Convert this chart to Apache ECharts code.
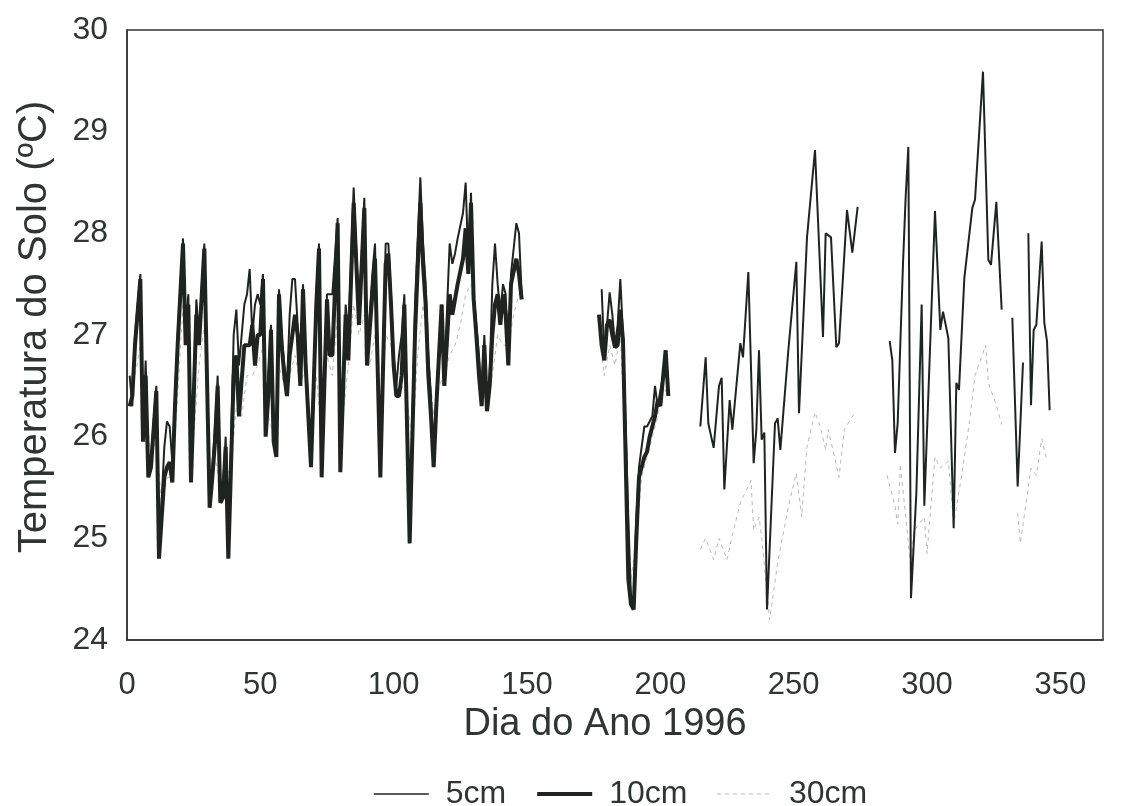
<!DOCTYPE html>
<html>
<head>
<meta charset="utf-8">
<script src="https://cdn.jsdelivr.net/npm/echarts@6/dist/echarts.min.js"></script>
<style>
html,body{margin:0;padding:0;background:#fff;}
#chart{width:1135px;height:806px;}
</style>
</head>
<body>
<div id="chart"></div>
<script>
// Series names
const seriesNames = ['5cm', '10cm', '30cm'];
// Axis ticks
const xTicks = [0, 50, 100, 150, 200, 250, 300, 350];
const yTicks = [24, 25, 26, 27, 28, 29, 30];

// 5 cm depth: [day of year, temperature °C]; '-' marks a gap
const soil5cm = [
[1,26.6],[2,26.3],[3,27.0],[5,27.6],[6,26.0],[7,26.75],[8,25.65],[9,25.8],[11,26.5],[12,24.85],[14,25.9],[15,26.15],[16,26.1],[17,25.75],[18,26.4],[19,27.0],[21,27.95],[22,27.1],[23,27.4],[24,25.6],[26,27.35],[27,27.0],[29,27.9],[31,25.35],[32,25.7],[33,26.1],[34,26.6],[35,25.45],[36,25.5],[37,26.0],[38,24.85],[40,27.0],[41,27.25],[42,26.7],[44,27.3],[45,27.4],[46,27.65],[47,27.0],[48,27.3],[49,27.4],[50,27.3],[51,27.6],[52,26.1],[53,26.6],[54,27.1],[55,26.1],[56,25.9],[57,27.45],[58,27.0],[59,26.7],[60,26.5],[61,27.2],[62,27.55],[63,27.55],[64,27.1],[65,26.6],[66,27.5],[67,26.8],[69,25.75],[70,26.6],[71,27.4],[72,27.9],[73,25.65],[74,26.6],[75,27.4],[76,27.4],[77,27.4],[79,28.15],[80,25.75],[82,27.3],[83,27.0],[85,28.45],[87,27.2],[89,28.35],[90,26.8],[92,27.6],[93,27.9],[95,25.65],[97,27.9],[98,27.9],[99,27.4],[100,26.8],[101,26.5],[102,26.8],[103,27.0],[104,27.4],[106,25.0],[108,27.3],[110,28.55],[111,27.9],[112,27.5],[113,26.8],[114,26.4],[115,25.8],[116,26.4],[118,27.3],[119,26.6],[121,27.9],[122,27.7],[123,27.8],[124,27.95],[126,28.2],[127,28.5],[128,27.7],[129,28.4],[130,27.4],[131,27.1],[132,26.8],[133,26.4],[134,27.0],[135,26.3],[136,26.6],[137,27.5],[138,27.9],[139,27.5],[140,27.2],[141,27.5],[142,27.4],[143,26.8],[144,27.6],[146,28.1],[147,28.0],[148,27.4],
[160,'-'],
[178,27.45],[179,26.8],[180,27.1],[181,27.42],[182,27.2],[183,26.9],[184,27.1],[185,27.55],[186,27.0],[188,25.2],[189,24.4],[190,24.35],[191,25.2],[192,25.7],[194,26.1],[195,26.1],[196,26.15],[197,26.2],[198,26.5],[199,26.3],[201,26.6],[202,26.85],[203,26.45],
[208,'-'],
[215,26.1],[217,26.78],[218,26.13],[220,25.89],[222,26.5],[223,26.58],[224,25.48],[226,26.36],[227,26.07],[230,26.92],[231,26.78],[233,27.62],[235,25.74],[236,26.07],[237,26.85],[238,25.97],[239,26.04],[240,24.3],[243,26.13],[244,26.18],[245,25.87],[248,26.85],[251,27.72],[252,26.23],[255,27.96],[258,28.82],[261,26.98],[262,28.0],[264,27.96],[266,26.88],[267,26.92],[270,28.23],[272,27.81],[274,28.26],
[280,'-'],
[286,26.94],[287,26.75],[288,25.84],[289,26.13],[291,27.7],[292,28.36],[293,28.85],[294,24.41],[296,25.44],[298,27.3],[299,25.32],[303,28.22],[305,27.05],[306,27.23],[308,26.97],[310,25.1],[311,26.53],[312,26.46],[314,27.56],[317,28.25],[318,28.33],[321,29.59],[323,27.74],[324,27.69],[326,28.31],[328,27.25],
[330,'-'],
[332,27.17],[334,25.51],[336,26.73],[337,'-'],[338,28.0],[339,26.31],[340,27.05],[341,27.1],[343,27.92],[344,27.12],[345,26.94],[346,26.26]
];

// 10 cm depth
const soil10cm = [
[1,26.3],[2,26.4],[3,26.9],[5,27.55],[6,25.95],[7,26.6],[8,25.6],[9,25.7],[11,26.45],[12,24.8],[14,25.6],[15,25.7],[16,25.75],[17,25.55],[18,26.3],[19,26.9],[21,27.9],[22,26.9],[23,27.3],[24,25.55],[26,27.2],[27,26.9],[29,27.85],[31,25.3],[32,25.6],[33,25.95],[34,26.5],[35,25.35],[36,25.4],[37,25.9],[38,24.8],[40,26.6],[41,26.8],[42,26.2],[44,26.9],[46,26.9],[47,27.1],[48,26.7],[49,27.0],[50,27.0],[51,27.55],[52,26.0],[53,26.4],[54,27.05],[55,25.95],[56,25.8],[57,27.4],[58,26.9],[59,26.6],[60,26.4],[61,26.8],[62,27.0],[63,27.2],[64,27.0],[65,26.5],[66,27.45],[67,26.7],[69,25.7],[70,26.5],[71,27.3],[72,27.85],[73,25.6],[74,26.5],[75,27.35],[76,26.8],[77,26.8],[79,28.1],[80,25.65],[82,27.2],[83,26.75],[85,28.3],[87,27.1],[89,28.25],[90,26.7],[92,27.4],[93,27.75],[95,25.6],[97,27.7],[98,27.8],[99,27.3],[100,26.7],[101,26.4],[102,26.4],[103,26.6],[104,27.3],[106,24.95],[108,27.0],[110,28.3],[111,27.7],[112,27.3],[113,26.6],[114,26.2],[115,25.7],[116,26.3],[118,27.3],[119,26.5],[121,27.4],[122,27.2],[123,27.35],[124,27.5],[126,27.75],[127,28.05],[128,27.6],[129,28.3],[130,27.35],[131,27.0],[132,26.6],[133,26.3],[134,26.9],[135,26.25],[136,26.5],[137,27.0],[138,27.3],[139,27.4],[140,27.1],[141,27.4],[142,27.2],[143,26.7],[144,27.5],[146,27.75],[147,27.6],[148,27.35],
[160,'-'],
[177,27.2],[178,26.9],[179,26.75],[180,27.1],[181,27.15],[182,27.0],[183,26.88],[184,26.9],[185,27.25],[186,26.95],[188,24.6],[189,24.35],[190,24.3],[191,25.0],[192,25.6],[194,25.8],[195,25.85],[196,26.0],[197,26.1],[198,26.2],[199,26.35],[200,26.3],[202,26.85],[203,26.4]
];

// 30 cm depth
const soil30cm = [
[1,26.3],[3,26.6],[5,26.9],[7,26.3],[9,25.8],[11,26.0],[13,25.3],[15,25.6],[17,25.6],[19,26.4],[21,27.3],[23,26.9],[25,26.0],[27,26.7],[29,27.1],[31,25.8],[33,25.8],[35,25.5],[37,25.6],[39,25.7],[41,26.3],[43,26.2],[45,26.6],[47,26.6],[49,26.7],[51,26.9],[53,26.2],[55,26.0],[57,26.7],[59,26.5],[61,26.6],[63,26.8],[65,26.5],[67,26.7],[69,25.9],[71,26.6],[73,26.0],[75,26.8],[77,26.6],[79,27.2],[81,26.2],[83,26.7],[85,27.3],[87,27.0],[89,27.2],[91,26.7],[93,27.0],[95,26.2],[97,27.0],[99,26.9],[101,26.4],[103,26.5],[105,26.4],[107,25.9],[109,26.8],[111,27.3],[113,26.8],[115,26.2],[117,26.5],[119,26.6],[121,26.8],[123,26.9],[125,27.1],[127,27.4],[129,27.5],[131,27.0],[133,26.5],[135,26.3],[137,26.6],[139,27.0],[141,26.9],[143,26.9],[145,27.2],[147,27.4],
[160,'-'],
[177,27.0],[179,26.6],[181,26.9],[183,26.7],[185,27.0],[187,25.8],[189,24.6],[191,25.0],[193,25.6],[195,25.8],[197,26.0],[199,26.2],[201,26.5],[203,26.4],
[208,'-'],
[215,24.89],[217,25.0],[220,24.79],[222,25.0],[225,24.79],[227,25.03],[230,25.35],[234,25.57],[235,25.08],[237,25.21],[238,25.01],[241,24.2],[244,24.76],[248,25.31],[251,25.64],[253,25.21],[255,25.9],[258,26.24],[260,26.1],[262,25.87],[263,26.07],[267,25.6],[269,26.07],[273,26.24],
[280,'-'],
[285,25.62],[288,25.32],[289,25.14],[290,25.73],[294,24.7],[295,25.07],[299,25.21],[300,24.85],[303,25.8],[305,25.69],[308,25.76],[310,25.14],[313,25.62],[316,26.16],[318,26.6],[322,26.9],[323,26.53],[326,26.31],[328,26.12],
[330,'-'],
[334,25.25],[335,24.95],[339,25.69],[341,25.62],[343,25.98],[345,25.76]
];

const textColor = '#2e3532';
const lineColor = '#1f2421';
const dashColor = '#b8b8b8';
const fontFam = '"Liberation Sans", Arial, sans-serif';
const widths = {'5cm': 2, '10cm': 4, '30cm': 1};

const chart = echarts.init(document.getElementById('chart'), null, {renderer: 'canvas'});
chart.setOption({
  backgroundColor: '#ffffff',
  animation: false,
  grid: {left: 127, top: 30, right: 32, bottom: 166, show: true, borderColor: '#333', borderWidth: 1.5, backgroundColor: 'transparent'},
  legend: {
    data: seriesNames.map(n => ({name: n, lineStyle: {width: n === '5cm' ? 1.5 : widths[n]}})),
    left: 368, top: 773,
    itemWidth: 55, itemHeight: 14, itemGap: 29,
    itemStyle: {opacity: 0},
    textStyle: {fontFamily: fontFam, fontSize: 32, color: textColor, padding: [0, 0, 0, 12]}
  },
  xAxis: {
    type: 'value', min: 0, max: 366, interval: 50,
    name: 'Dia do Ano 1996', nameLocation: 'middle', nameGap: 61,
    nameTextStyle: {fontFamily: fontFam, fontSize: 38, color: textColor, padding: [0, 20, 0, 0]},
    axisLine: {show: true, lineStyle: {color: '#333', width: 1.5}},
    axisTick: {show: false},
    splitLine: {show: false},
    axisLabel: {fontFamily: fontFam, fontSize: 31, color: textColor, margin: 30, showMaxLabel: false,
      formatter: v => xTicks.includes(v) ? String(v) : ''}
  },
  yAxis: {
    type: 'value', min: yTicks[0], max: yTicks[yTicks.length - 1], interval: 1,
    name: 'Temperatura do Solo (ºC)', nameLocation: 'middle', nameGap: 72,
    nameTextStyle: {fontFamily: fontFam, fontSize: 40, color: textColor, padding: [0, 0, 0, 16]},
    axisLine: {show: true, lineStyle: {color: '#333', width: 1.5}},
    axisTick: {show: false},
    splitLine: {show: false},
    axisLabel: {fontFamily: fontFam, fontSize: 32, color: textColor, margin: 19}
  },
  series: [
    {name: '30cm', type: 'line', data: soil30cm, symbol: 'none', connectNulls: false, z: 1,
      lineStyle: {color: dashColor, width: widths['30cm'], type: [4, 4]}, itemStyle: {color: dashColor}},
    {name: '10cm', type: 'line', data: soil10cm, symbol: 'none', connectNulls: false, z: 2,
      lineStyle: {color: lineColor, width: widths['10cm']}, itemStyle: {color: lineColor}},
    {name: '5cm', type: 'line', data: soil5cm, symbol: 'none', connectNulls: false, z: 3,
      lineStyle: {color: lineColor, width: widths['5cm']}, itemStyle: {color: lineColor}}
  ]
});
</script>
</body>
</html>
